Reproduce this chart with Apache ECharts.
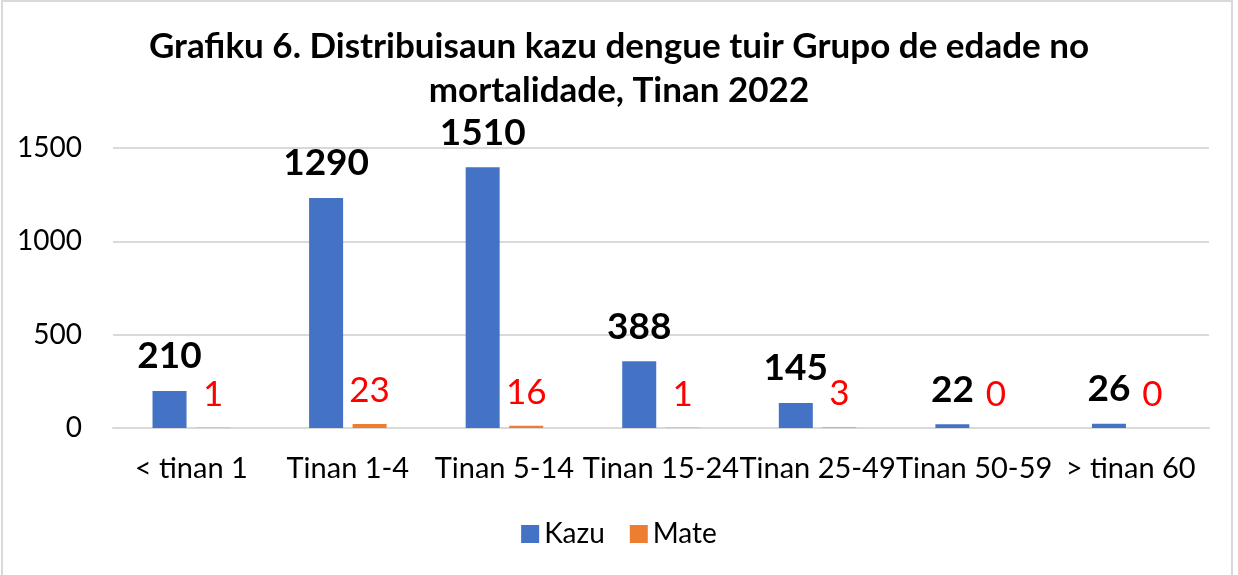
<!DOCTYPE html>
<html>
<head>
<meta charset="utf-8">
<script src="https://cdn.jsdelivr.net/npm/echarts@6/dist/echarts.min.js"></script>
<style>
  html, body { margin: 0; padding: 0; background: #fff; }
  .frame {
    position: absolute; left: 1px; top: 0; width: 1232px; height: 580px;
    border: 2px solid #d9d9d9; box-sizing: border-box;
  }
  #chart { position: absolute; left: 0; top: 0; width: 1238px; height: 575px; }
</style>
</head>
<body>
<div class="frame"></div>
<div id="chart"></div>
<script>
// grupu idade
const categories = ['< tinan 1', 'Tinan 1-4', 'Tinan 5-14', 'Tinan 15-24', 'Tinan 25-49', 'Tinan 50-59', '> tinan 60']
// altura barra sira (lee husi grafiku)
const kazuValues = [198, 1232, 1397, 357, 134, 20, 23]
const mateValues = [1, 21, 12, 1, 3, 0, 0]
// testu label iha leten barra
const kazuLabels = ['210', '1290', '1510', '388', '145', '22', '26']
const mateLabels = ['1', '23', '16', '1', '3', '0', '0']
const yTicks = [0, 500, 1000, 1500]

const font = 'Lato, "Open Sans", sans-serif'
const myChart = echarts.init(document.getElementById('chart'))

const option = {
  backgroundColor: 'transparent',
  textStyle: { fontFamily: font },
  title: {
    text: 'Grafiku 6. Distribuisaun kazu dengue tuir Grupo de edade no\nmortalidade, Tinan 2022',
    left: 'center',
    top: 20,
    textStyle: {
      fontFamily: font,
      fontSize: 35,
      fontWeight: 'bold',
      lineHeight: 44,
      color: '#000'
    }
  },
  legend: {
    bottom: 22,
    left: 'center',
    itemWidth: 18,
    itemHeight: 18,
    itemGap: 25,
    icon: 'rect',
    textStyle: { fontFamily: font, fontSize: 28, color: '#000' },
    data: ['Kazu', 'Mate']
  },
  grid: {
    left: 113,
    right: 29,
    top: 148,
    bottom: 147,
    containLabel: false
  },
  xAxis: {
    type: 'category',
    data: categories,
    axisLine: { show: true, lineStyle: { color: '#d9d9d9', width: 2 } },
    axisTick: { show: false },
    axisLabel: {
      interval: 0,
      margin: 26,
      fontFamily: font,
      fontSize: 29,
      color: '#000'
    }
  },
  yAxis: {
    type: 'value',
    min: yTicks[0],
    max: yTicks[yTicks.length - 1],
    interval: 500,
    axisLine: { show: false },
    axisTick: { show: false },
    splitLine: { lineStyle: { color: '#d9d9d9', width: 2 } },
    axisLabel: {
      margin: 31,
      fontFamily: font,
      fontSize: 28,
      color: '#000',
      formatter: v => String(v)
    }
  },
  series: [
    {
      name: 'Kazu',
      type: 'bar',
      barWidth: 34,
      barGap: '28%',
      itemStyle: { color: '#4472C4' },
      data: kazuValues,
      label: {
        show: true,
        position: 'top',
        distance: 16,
        fontFamily: font,
        fontSize: 37,
        fontWeight: 'bold',
        color: '#000',
        formatter: p => kazuLabels[p.dataIndex]
      }
    },
    {
      name: 'Mate',
      type: 'bar',
      barWidth: 34,
      itemStyle: { color: '#ED7D31' },
      data: mateValues,
      label: {
        show: true,
        position: 'top',
        distance: 16,
        fontFamily: font,
        fontSize: 35,
        color: '#FF0000',
        formatter: p => mateLabels[p.dataIndex]
      }
    }
  ]
}
myChart.setOption(option)
</script>
</body>
</html>
